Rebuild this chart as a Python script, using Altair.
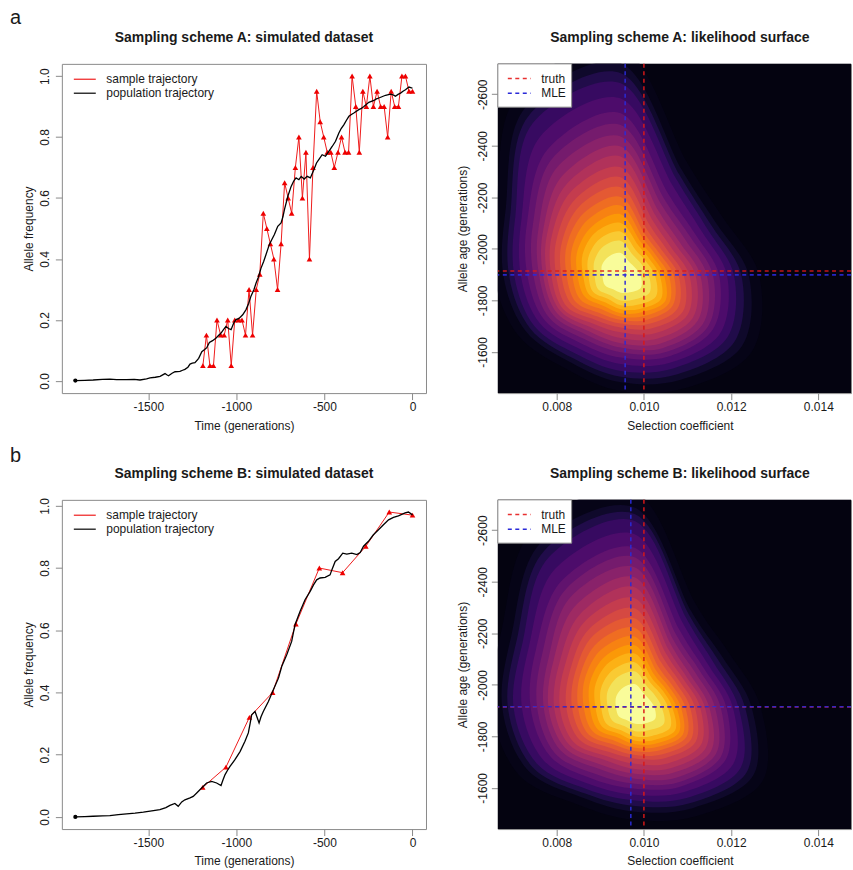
import math
import altair as alt
import pandas as pd

FONT = "Liberation Sans"
TXT = "#1a1a1a"
BOX = "#8a8a8a"

# ---------------- data ----------------
a_sample_time = [-1190, -1170, -1150, -1130, -1110, -1089, -1069, -1049, -1029, -1009,
                 -988, -968, -948, -928, -908, -887, -867, -847, -827, -807,
                 -787, -766, -746, -726, -706, -686, -665, -645, -625, -605,
                 -585, -565, -544, -524, -504, -484, -464, -444, -423, -403,
                 -383, -363, -343, -322, -302, -282, -262, -242, -222, -201,
                 -181, -161, -141, -121, -101, -80, -60, -40, -20, 0]
a_sample_freq = [0.05, 0.15, 0.05, 0.05, 0.20, 0.15, 0.15, 0.20, 0.05, 0.20,
                 0.20, 0.20, 0.15, 0.30, 0.15, 0.30, 0.35, 0.55, 0.50, 0.45,
                 0.40, 0.30, 0.45, 0.65, 0.60, 0.55, 0.70, 0.80, 0.60, 0.75,
                 0.40, 0.70, 0.95, 0.85, 0.80, 0.75, 0.75, 0.70, 0.75, 0.80,
                 0.75, 0.75, 1.00, 0.90, 0.75, 0.95, 0.90, 1.00, 0.90, 0.95,
                 0.90, 0.90, 0.80, 0.95, 0.90, 0.90, 1.00, 1.00, 0.95, 0.95]

a_pop_time = [-1914, -1860, -1813, -1760, -1718, -1680, -1623, -1580, -1547, -1510,
              -1490, -1460, -1433, -1405, -1395, -1385, -1365, -1348, -1320, -1305,
              -1292, -1275, -1263, -1250, -1235, -1214, -1196, -1180, -1168, -1153,
              -1135, -1115, -1100, -1087, -1073, -1059, -1045, -1030, -1015, -1002,
              -985, -964, -945, -930, -917, -900, -888, -875, -860, -845,
              -832, -813, -800, -784, -765, -746, -735, -727, -708, -689,
              -675, -661, -645, -632, -615, -598, -580, -560, -545, -532,
              -513, -494, -475, -456, -437, -418, -405, -390, -375, -361,
              -347, -333, -305, -290, -276, -248, -219, -205, -191, -170,
              -153, -125, -110, -97, -82, -68, -54, -40, -20, -10, 0]
a_pop_freq = [0.001, 0.002, 0.003, 0.005, 0.006, 0.004, 0.004, 0.005, 0.003, 0.007,
              0.010, 0.012, 0.015, 0.024, 0.020, 0.017, 0.025, 0.030, 0.031, 0.035,
              0.038, 0.045, 0.055, 0.058, 0.060, 0.074, 0.096, 0.103, 0.109, 0.126,
              0.132, 0.141, 0.150, 0.157, 0.168, 0.179, 0.172, 0.168, 0.190, 0.201,
              0.205, 0.217, 0.234, 0.255, 0.278, 0.300, 0.321, 0.340, 0.370, 0.392,
              0.414, 0.447, 0.462, 0.480, 0.507, 0.518, 0.540, 0.562, 0.605, 0.638,
              0.655, 0.666, 0.660, 0.671, 0.662, 0.671, 0.666, 0.693, 0.715, 0.726,
              0.742, 0.737, 0.753, 0.769, 0.786, 0.813, 0.828, 0.840, 0.855, 0.868,
              0.874, 0.879, 0.890, 0.894, 0.900, 0.914, 0.920, 0.925, 0.928, 0.933,
              0.937, 0.941, 0.938, 0.934, 0.940, 0.944, 0.950, 0.955, 0.964, 0.962, 0.960]

b_sample_time = [-1191, -1059, -926, -794, -662, -529, -397, -265, -132, 0]
b_sample_freq = [0.095, 0.16, 0.32, 0.40, 0.62, 0.80, 0.785, 0.87, 0.98, 0.97]

b_pop_time = [-1914, -1860, -1813, -1760, -1718, -1670, -1623, -1575, -1528, -1480,
              -1434, -1400, -1377, -1349, -1330, -1310, -1292, -1263, -1245, -1225,
              -1197, -1169, -1140, -1112, -1087, -1075, -1064, -1050, -1036, -1008,
              -979, -951, -932, -922, -913, -894, -871, -860, -847, -818,
              -790, -761, -742, -714, -686, -667, -652, -638, -610, -581,
              -562, -544, -525, -496, -468, -458, -439, -420, -396, -373,
              -345, -316, -297, -278, -250, -222, -193, -165, -136, -108,
              -80, -42, -23, 0]
b_pop_freq = [0.000, 0.001, 0.002, 0.003, 0.004, 0.007, 0.010, 0.012, 0.015, 0.019,
              0.023, 0.030, 0.037, 0.043, 0.034, 0.048, 0.055, 0.061, 0.066, 0.077,
              0.093, 0.109, 0.114, 0.109, 0.101, 0.120, 0.136, 0.150, 0.162, 0.184,
              0.210, 0.243, 0.270, 0.300, 0.328, 0.339, 0.302, 0.322, 0.339, 0.371,
              0.409, 0.446, 0.484, 0.521, 0.564, 0.618, 0.640, 0.661, 0.698, 0.725,
              0.746, 0.762, 0.768, 0.770, 0.778, 0.794, 0.821, 0.830, 0.848, 0.845,
              0.848, 0.843, 0.850, 0.870, 0.886, 0.907, 0.923, 0.939, 0.955, 0.963,
              0.968, 0.977, 0.980, 0.971]

truth_s, truth_age = 0.010, -1914
a_mle_s, a_mle_age = 0.00957, -1899
b_mle_s, b_mle_age = 0.0097, -1915

# likelihood surface: nested level sets.
# radii along 12 screen directions (0 = right, 90 = down), in units of
# 1e-4 selection coefficient horizontally / 16.9 generations vertically
surface_levels = [0.02, 0.05, 0.10, 0.15, 0.20, 0.25, 0.30, 0.35, 0.40, 0.45,
                  0.50, 0.55, 0.60, 0.65, 0.70, 0.75, 0.80, 0.85, 0.90, 0.95]
surface_fill = [0.04, 0.075, 0.125, 0.175, 0.225, 0.275, 0.325, 0.375, 0.425, 0.475,
                0.525, 0.575, 0.625, 0.675, 0.725, 0.775, 0.825, 0.875, 0.925, 0.99]
surface_dirs = [0, 30, 60, 90, 120, 150, 180, 210, 240, 270, 300, 330]
RADIUS_S, RADIUS_AGE = 1e-4, 16.9

a_center = (0.00947, -1894)
a_radii = [
    [31.8, 34.7, 29.7, 26.4, 24.7, 27.2, 29.1, 32.9, 47.8, 52.8, 30.3, 27.0],
    [29.4, 32.1, 27.5, 24.4, 22.9, 25.2, 26.9, 30.5, 44.3, 48.9, 28.1, 25.0],
    [27.7, 30.1, 26.0, 23.1, 21.8, 24.0, 25.6, 29.2, 42.4, 46.6, 26.9, 23.8],
    [26.0, 28.2, 24.4, 21.8, 20.6, 22.9, 24.4, 27.9, 40.5, 44.3, 25.6, 22.6],
    [24.4, 26.3, 22.9, 20.2, 19.2, 21.5, 22.9, 26.3, 37.0, 40.8, 23.9, 21.2],
    [22.6, 24.4, 21.4, 18.7, 17.9, 20.2, 21.4, 24.8, 33.6, 37.4, 21.8, 19.6],
    [21.2, 23.1, 20.2, 17.5, 16.7, 19.0, 20.0, 23.3, 31.3, 34.7, 20.2, 18.3],
    [19.8, 21.8, 19.1, 16.4, 15.6, 17.9, 18.7, 21.8, 29.0, 32.1, 18.8, 17.0],
    [18.3, 20.4, 17.9, 15.4, 14.6, 16.9, 17.8, 20.6, 26.7, 29.8, 17.3, 15.6],
    [17.2, 19.1, 16.6, 14.2, 13.6, 16.0, 16.9, 19.5, 24.6, 27.5, 16.0, 14.5],
    [15.8, 17.7, 15.2, 12.9, 12.6, 15.2, 15.9, 18.3, 22.6, 25.0, 14.7, 13.3],
    [14.5, 16.4, 13.9, 11.8, 11.6, 14.2, 14.8, 17.0, 20.6, 22.7, 13.4, 12.2],
    [13.3, 15.0, 12.7, 10.9, 10.7, 13.0, 13.6, 15.6, 18.7, 20.4, 12.2, 11.2],
    [12.2, 13.7, 11.6, 10.1, 9.8, 11.9, 12.4, 14.3, 16.8, 18.2, 11.1, 10.3],
    [11.1, 12.7, 10.6, 9.3, 8.8, 10.7, 11.1, 12.9, 15.0, 16.2, 10.1, 9.4],
    [10.0, 11.7, 9.6, 8.5, 7.9, 9.5, 9.9, 11.5, 13.2, 14.2, 9.1, 8.6],
    [9.0, 10.6, 8.7, 7.6, 7.0, 8.4, 8.6, 10.1, 11.6, 12.2, 8.1, 7.7],
    [7.9, 9.3, 7.6, 6.7, 6.0, 7.3, 7.4, 8.6, 9.8, 10.2, 6.9, 6.7],
    [6.5, 7.6, 6.2, 5.6, 5.0, 6.0, 6.0, 7.0, 7.9, 8.1, 5.6, 5.5],
    [4.6, 5.3, 4.3, 3.8, 3.5, 4.2, 4.2, 5.0, 5.3, 5.3, 3.8, 3.8],
]
b_center = (0.0098, -1913)
b_radii = [
    [28.8, 33.8, 28.8, 25.9, 25.9, 30.9, 32.9, 35.4, 47.0, 49.5, 27.6, 24.9],
    [26.7, 31.3, 26.7, 24.0, 24.0, 28.6, 30.5, 32.8, 43.5, 45.8, 25.6, 23.1],
    [25.2, 29.6, 25.4, 22.7, 22.9, 27.3, 29.2, 31.3, 41.6, 44.3, 24.6, 21.9],
    [23.7, 27.9, 24.0, 21.4, 21.8, 26.0, 27.9, 29.8, 39.7, 42.7, 23.5, 20.7],
    [22.4, 26.0, 22.5, 20.1, 20.5, 24.3, 26.0, 28.1, 36.7, 39.7, 22.1, 19.4],
    [20.9, 24.0, 21.0, 18.7, 19.1, 22.5, 24.0, 26.3, 33.6, 36.6, 20.4, 18.1],
    [19.6, 22.7, 19.9, 17.6, 17.8, 21.2, 22.5, 24.6, 31.5, 34.4, 19.0, 17.0],
    [18.3, 21.4, 18.7, 16.4, 16.4, 19.8, 21.0, 22.9, 29.4, 32.1, 17.7, 15.9],
    [17.0, 20.1, 17.4, 15.3, 15.3, 18.6, 19.9, 21.6, 27.1, 29.8, 16.5, 14.7],
    [16.0, 18.7, 16.2, 14.2, 14.0, 17.4, 18.6, 20.1, 24.9, 27.5, 15.3, 13.7],
    [14.9, 17.4, 14.9, 13.0, 13.0, 16.2, 17.3, 18.7, 22.9, 25.0, 14.2, 12.8],
    [13.7, 16.0, 13.5, 11.8, 11.9, 14.8, 15.8, 17.2, 20.9, 22.7, 13.0, 11.8],
    [12.6, 14.8, 12.5, 11.0, 10.9, 13.6, 14.5, 15.9, 19.1, 20.4, 11.9, 10.9],
    [11.5, 13.6, 11.4, 10.1, 9.9, 12.4, 13.1, 14.6, 17.2, 18.2, 10.7, 9.9],
    [10.5, 12.6, 10.5, 9.3, 9.0, 11.2, 11.8, 13.3, 15.4, 16.2, 9.7, 9.1],
    [9.5, 11.6, 9.6, 8.5, 8.0, 10.0, 10.4, 11.9, 13.6, 14.2, 8.7, 8.2],
    [8.5, 10.6, 8.7, 7.7, 7.1, 8.8, 9.1, 10.5, 11.9, 12.3, 7.7, 7.4],
    [7.5, 9.3, 7.6, 6.7, 6.2, 7.6, 7.8, 9.0, 10.0, 10.3, 6.7, 6.5],
    [6.1, 7.6, 6.1, 5.5, 5.0, 6.1, 6.3, 7.3, 8.0, 8.2, 5.5, 5.3],
    [4.4, 5.3, 4.3, 3.8, 3.5, 4.3, 4.4, 5.0, 5.3, 5.3, 3.8, 3.7],
]

W_L, W_R, H = 365, 354, 330
NEG = "datum.value < 0 ? '-' + format(-datum.value, 'd') : format(datum.value, 'd')"


def txt(label, x, y, size=12, weight="normal", align="left", baseline="middle"):
    return alt.Chart(pd.DataFrame({"label": [label]})).mark_text(
        font=FONT, fontSize=size, fontWeight=weight, color=TXT, align=align, baseline=baseline
    ).encode(x=alt.value(x), y=alt.value(y), text="label:N")


def seg(x1, x2, y, color, dash=None, width=1.2, opacity=1.0):
    kw = dict(color=color, strokeWidth=width, opacity=opacity)
    if dash:
        kw["strokeDash"] = dash
    return alt.Chart(pd.DataFrame({"k": [0]})).mark_rule(**kw).encode(
        x=alt.value(x1), x2=alt.value(x2), y=alt.value(y))


def anchor(x, y):
    # invisible zero-width guide fixing the page bounds
    return alt.Chart(pd.DataFrame({"k": [0]})).mark_rule(strokeWidth=0, strokeOpacity=0).encode(
        x=alt.value(x), x2=alt.value(x + 0.5), y=alt.value(y))


def traj_panel(st, sf, pt, pf, ydom, title, letter, letter_y, extra=None):
    smp = pd.DataFrame({"t": st, "f": sf, "i": list(range(len(st)))})
    pop = pd.DataFrame({"t": pt, "f": pf, "i": list(range(len(pt)))})
    X = alt.X("t:Q", scale=alt.Scale(domain=[-1990.6, 76.6], nice=False, zero=False),
              axis=alt.Axis(values=[-1500, -1000, -500, 0], labelExpr=NEG,
                            title="Time (generations)", labelPadding=2,
                            titleX=W_L / 2, titleY=32, titleBaseline="middle", titleAlign="center"))
    Y = alt.Y("f:Q", scale=alt.Scale(domain=ydom, nice=False, zero=False),
              axis=alt.Axis(values=[0, 0.2, 0.4, 0.6, 0.8, 1.0], format=".1f",
                            labelAngle=270, labelAlign="center", labelBaseline="middle",
                            labelPadding=10.5, title="Allele frequency", titleAngle=270,
                            titleX=-33, titleY=H / 2, titleBaseline="middle", titleAlign="center"))
    s_line = alt.Chart(smp).mark_line(color="#ee1c1c", strokeWidth=1).encode(X, Y, order="i:Q")
    s_pts = alt.Chart(smp).mark_point(shape="triangle-up", filled=True, color="#ee0000",
                                      size=32, opacity=1).encode(X, Y)
    p_line = alt.Chart(pop).mark_line(color="black", strokeWidth=1.3).encode(X, Y, order="i:Q")
    start = alt.Chart(pop.iloc[:1]).mark_circle(color="black", size=18, opacity=1).encode(X, Y)
    layers = [s_line, s_pts, p_line, start,
              seg(12, 34, 15.4, "#ee1c1c"), seg(12, 34, 29.4, "black"),
              txt("sample trajectory", 44.5, 15.4), txt("population trajectory", 44.5, 29.4),
              txt(title, W_L / 2, -26, size=14, weight="bold", align="center"),
              txt(letter, -52, letter_y, size=20, baseline="alphabetic")]
    if extra is not None:
        layers.append(extra)
    return alt.layer(*layers).properties(width=W_L, height=H)


def surface_frame(center, radii):
    rows = []
    for li, rr in enumerate(radii):
        for k, (ang, r) in enumerate(zip(surface_dirs, rr)):
            th = math.radians(ang)
            rows.append({"lev": li, "t": surface_fill[li], "k": k,
                         "s": center[0] + r * math.cos(th) * RADIUS_S,
                         "age": center[1] + r * math.sin(th) * RADIUS_AGE})
    return pd.DataFrame(rows)


def heat_panel(center, radii, mle_s, mle_age, title, extra=None):
    X = alt.X("s:Q", scale=alt.Scale(domain=[0.00665, 0.01475], nice=False, zero=False),
              axis=alt.Axis(values=[0.008, 0.010, 0.012, 0.014], format=".3f",
                            title="Selection coefficient", labelPadding=2,
                            titleX=182.5, titleY=32, titleBaseline="middle", titleAlign="center"))
    Y = alt.Y("age:Q", scale=alt.Scale(domain=[-2718, -1440], nice=False, zero=False, reverse=True),
              axis=alt.Axis(values=[-2600, -2400, -2200, -2000, -1800, -1600], labelExpr=NEG,
                            labelAngle=270, labelAlign="center", labelBaseline="middle",
                            labelPadding=8.5, title="Allele age (generations)", titleAngle=270,
                            titleX=-35, titleY=H / 2, titleBaseline="middle", titleAlign="center"))
    bg = alt.Chart(pd.DataFrame({"k": [0]})).mark_rect(color="#040310").encode(
        x=alt.value(0), x2=alt.value(W_R), y=alt.value(0), y2=alt.value(H))
    df = surface_frame(center, radii)
    fill = alt.Fill("t:Q", scale=alt.Scale(scheme="inferno", domain=[0, 1]), legend=None)
    levels = [
        alt.Chart(df[df.lev == li]).mark_line(interpolate="cardinal-closed", clip=True,
                                              strokeWidth=0, strokeOpacity=0).encode(
            X, Y, order="k:Q", fill=fill)
        for li in range(len(radii))
    ]
    dash = [4, 3.5]
    v_truth = alt.Chart(pd.DataFrame({"s": [truth_s]})).mark_rule(
        color="#d81818", strokeWidth=1.6, strokeDash=dash, opacity=0.9).encode(X)
    h_truth = alt.Chart(pd.DataFrame({"age": [truth_age]})).mark_rule(
        color="#d81818", strokeWidth=1.6, strokeDash=dash, opacity=0.9).encode(Y)
    v_mle = alt.Chart(pd.DataFrame({"s": [mle_s]})).mark_rule(
        color="#2a2ad8", strokeWidth=1.6, strokeDash=dash, opacity=0.9).encode(X)
    h_mle = alt.Chart(pd.DataFrame({"age": [mle_age]})).mark_rule(
        color="#2a2ad8", strokeWidth=1.6, strokeDash=dash, opacity=0.9).encode(Y)
    box = alt.Chart(pd.DataFrame({"k": [0]})).mark_rect(fill="white", stroke=BOX, strokeWidth=1).encode(
        x=alt.value(0), x2=alt.value(74), y=alt.value(0), y2=alt.value(43.4))
    layers = [bg] + levels + [v_truth, h_truth, v_mle, h_mle, box,
                              seg(10, 33, 14.7, "#e83030", dash=dash, width=1.4),
                              seg(10, 33, 29.4, "#2a2ad8", dash=dash, width=1.4),
                              txt("truth", 43.5, 14.7), txt("MLE", 43.5, 29.4),
                              txt(title, 182.5, -26, size=14, weight="bold", align="center")]
    if extra is not None:
        layers.append(extra)
    return alt.layer(*layers).properties(width=W_R, height=H)


panels = [
    traj_panel(a_sample_time, a_sample_freq, a_pop_time, a_pop_freq, [-0.04, 1.04],
               "Sampling scheme A: simulated dataset", "a", -39.5, extra=anchor(-61, -62)),
    heat_panel(a_center, a_radii, a_mle_s, a_mle_age, "Sampling scheme A: likelihood surface"),
    traj_panel(b_sample_time, b_sample_freq, b_pop_time, b_pop_freq, [-0.0392, 1.0192],
               "Sampling scheme B: simulated dataset", "b", -37.5),
    heat_panel(b_center, b_radii, b_mle_s, b_mle_age, "Sampling scheme B: likelihood surface",
               extra=anchor(W_R - 1, H + 41)),
]

chart = alt.concat(*panels, columns=2, spacing=alt.RowColnumber(row=107, column=72),
                   bounds="flush").properties(
    padding=0,
    background="white",
).configure_view(stroke=BOX, strokeWidth=1).configure_axis(
    labelFont=FONT, titleFont=FONT, labelFontSize=12, titleFontSize=12,
    titleFontWeight="normal", labelColor=TXT, titleColor=TXT,
    tickColor=BOX, tickSize=6.5, domain=False, grid=False,
)

chart.save("out.html", embed_options={"renderer": "svg", "actions": False})
